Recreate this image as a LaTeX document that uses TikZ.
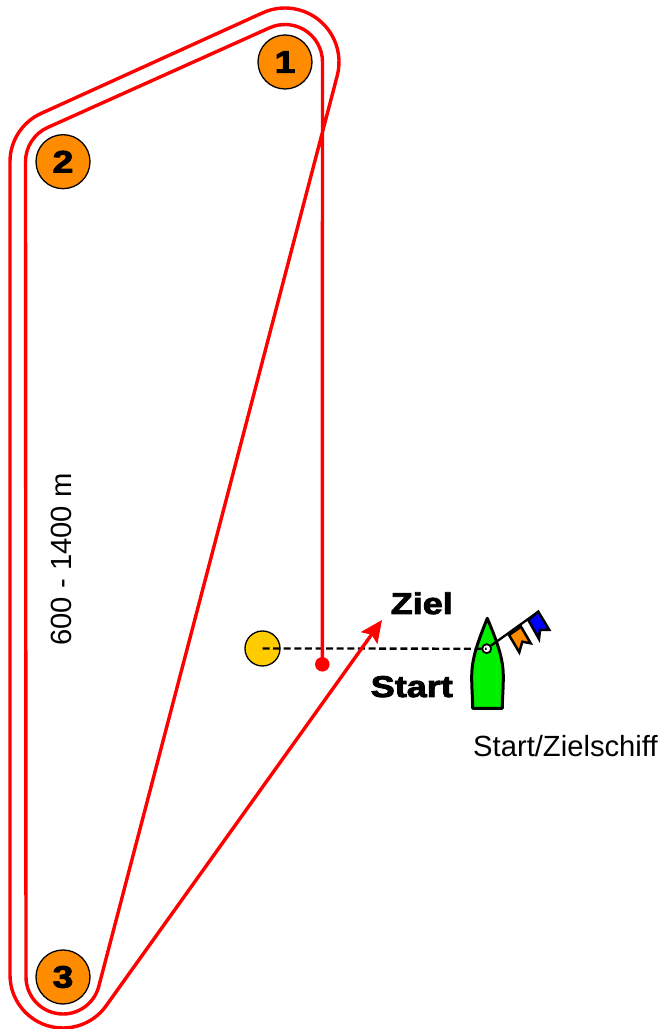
\documentclass[tikz,border=0pt]{standalone}
\usepackage{fontspec}
\setmainfont{Liberation Sans}
\newfontface\heavyfont[FakeBold=3,FakeStretch=1.2]{Liberation Sans Bold}
\usetikzlibrary{calc,arrows.meta}
\definecolor{markorange}{HTML}{FF8C00}
\definecolor{startyellow}{HTML}{FFCC00}
\definecolor{hullgreen}{HTML}{00F000}
\tikzset{
  course/.style={draw=red,line width=3.4pt,line join=round},
  buoymark/.style={circle,draw=black,line width=1.3pt,fill=markorange,minimum size=54pt,inner sep=0pt,font=\heavyfont\fontsize{31}{31}\selectfont},
  startbuoy/.style={circle,draw=black,line width=1.3pt,fill=startyellow,minimum size=35pt,inner sep=0pt},
  flagshape/.style={draw=black,line width=2.5pt,line join=miter},
  heavylabel/.style={inner sep=0pt,font=\heavyfont\fontsize{30}{30}\selectfont},
  plainlabel/.style={inner sep=0pt,font=\fontsize{29.2}{30}\selectfont},
}
\begin{document}
\begin{tikzpicture}[x=1pt,y=1pt]
\useasboundingbox (0,0) rectangle (661,1029);
\node[buoymark] (m1) at (285,967) {1};
\node[buoymark] (m2) at (63,867.3) {2};
\node[buoymark] (m3) at (63,52) {3};
\node[startbuoy] (buoy) at (262.5,380.5) {};
\coordinate (o3) at (63,54);
\coordinate (tip) at (382,409);
\node[circle,fill=red,minimum size=14.5pt,inner sep=0pt] (dot) at (322.3,364.7) {};
% boat
\draw[black,line width=3pt,fill=hullgreen,line join=round]
  (487.3,410.7) .. controls (477,385) and (471.7,370) .. (471.7,352)
  .. controls (471.7,340) and (472.7,330) .. (472.7,320.7)
  -- (502.3,320.7)
  .. controls (502.3,330) and (503.3,340) .. (503.3,352)
  .. controls (503.3,370) and (498,385) .. (487.3,410.7) -- cycle;
\node[circle,draw=black,line width=1.8pt,fill=white,minimum size=9pt,inner sep=0pt] (mast) at (486.7,380.3) {};
\coordinate (halyard) at (538.3,417.3);
\draw[black,line width=2.3pt] (mast) -- (halyard);
\draw[flagshape,fill=markorange] (509,394) -- (521,402.3) -- (530.7,385.7) -- (522.3,387.3) -- (519.3,376.7) -- cycle;
\draw[flagshape,fill=blue] (528.3,409) -- (538.3,417.3) -- (549.3,399) -- (540,399) -- (539,390) -- cycle;
% start line
\draw[black,line width=2.3pt,dash pattern=on 7pt off 3.6pt] (buoy.center) -- (mast.center);
% course
\draw[course,-{Stealth[length=22pt,width=20pt,inset=4pt]}]
  (dot.center) -- ($(m1.center)+(37.5,0)$)
  arc[start angle=0,end angle=114.2,radius=37.5pt]
  -- ($(m2.center)+(114.2:37.5pt)$)
  arc[start angle=114.2,end angle=180,radius=37.5pt]
  -- ($(m3.center)+(180:37pt)$)
  arc[start angle=180,end angle=345.33,radius=37pt]
  -- ($(m1.center)+(-14.67:54pt)$)
  arc[start angle=-14.67,end angle=114.2,radius=54pt]
  -- ($(m2.center)+(114.2:53pt)$)
  arc[start angle=114.2,end angle=180,radius=53pt]
  -- ($(o3)+(180:53pt)$)
  arc[start angle=180,end angle=324.34,radius=53pt]
  -- (tip);
% labels
\node[heavylabel,anchor=base east] (ziel) at (453,415) {Ziel};
\node[heavylabel,anchor=base east] (start) at (453,332) {Start};
\node[plainlabel,anchor=base west] (ship) at (473,272) {Start/Zielschiff};
\node[plainlabel,rotate=90,anchor=base] (dist) at (71,469.5) {600 - 1400 m};
\end{tikzpicture}
\end{document}
